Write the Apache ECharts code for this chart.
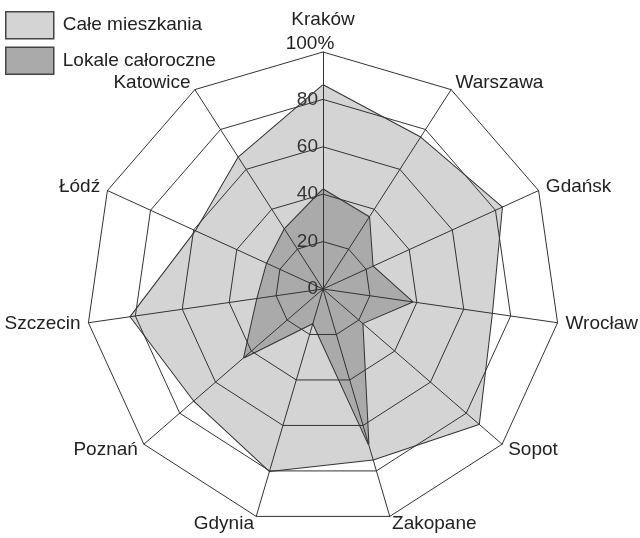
<!DOCTYPE html>
<html>
<head>
<meta charset="utf-8">
<script src="https://cdn.jsdelivr.net/npm/echarts@6/dist/echarts.min.js"></script>
<style>
  html, body { margin: 0; padding: 0; background: #fff; }
  #chart { width: 640px; height: 538px; }
</style>
</head>
<body>
<div id="chart"></div>
<script>
// miasta, zgodnie z ruchem wskazówek zegara od góry
const cities = ['Kraków', 'Warszawa', 'Gdańsk', 'Wrocław', 'Sopot', 'Zakopane',
                'Gdynia', 'Poznań', 'Szczecin', 'Łódź', 'Katowice']
const seriesNames = ['Całe mieszkania', 'Lokale całoroczne']
const caleMieszkania = [86, 76, 83, 72, 87, 75, 80, 72, 82, 59, 66]
const lokaleCaloroczne = [42, 36, 23, 38, 22, 68, 15, 44, 28, 26, 30]
const ringTicks = [0, 20, 40, 60, 80, 100]

// echarts idzie przeciwnie do zegara, więc odwracamy kolejność (poza pierwszym)
function ccw(arr) {
    return [arr[0]].concat(arr.slice(1).reverse())
}

const indicators = ccw(cities).map((name, i) => {
    let ind = { name: name, min: ringTicks[0], max: ringTicks[ringTicks.length - 1] }
    if (i === 0) {
        // tylko oś Krakowa ma podpisy wartości
        ind.axisLabel = { show: true }
        ind.nameGap = -4
    }
    return ind
})

let option = {
    animation: false,
    legend: {
        orient: 'vertical',
        left: 0,
        top: 6,
        itemWidth: 48,
        itemHeight: 27,
        itemGap: 7,
        icon: 'rect',
        itemStyle: { borderColor: '#444', borderWidth: 1.5 },
        textStyle: { fontSize: 19, color: '#222', fontFamily: 'Liberation Sans', padding: [0, 0, 0, 4] },
        data: seriesNames
    },
    radar: {
        z: 3,
        center: [323, 289],
        radius: 237,
        startAngle: 90,
        shape: 'polygon',
        splitNumber: ringTicks.length - 1,
        indicator: indicators,
        axisName: {
            color: '#222',
            fontSize: 19,
            lineHeight: 24,
            fontFamily: 'Liberation Sans',
            formatter: name => name === cities[0] ? name + '\n{p|' + ringTicks[ringTicks.length - 1] + '%}' : name,
            rich: {
                p: { fontSize: 19, lineHeight: 24, color: '#222', fontFamily: 'Liberation Sans', padding: [0, 26, 0, 0] }
            }
        },
        nameGap: 8,
        axisLine: { lineStyle: { color: '#333', width: 1 } },
        splitLine: { lineStyle: { color: '#333', width: 1 } },
        splitArea: { show: false },
        axisTick: { show: false },
        axisLabel: {
            show: false,
            color: '#333',
            fontSize: 19,
            fontFamily: 'Liberation Sans',
            margin: 5,
            padding: [0, 0, 10, 0],
            formatter: v => v === ringTicks[ringTicks.length - 1] ? '' : v
        }
    },
    series: [{
        type: 'radar',
        symbol: 'none',
        data: [
            {
                name: seriesNames[0],
                value: ccw(caleMieszkania),
                itemStyle: { color: '#d4d4d4' },
                lineStyle: { color: '#333', width: 2 },
                areaStyle: { color: '#d4d4d4', opacity: 1 }
            },
            {
                name: seriesNames[1],
                value: ccw(lokaleCaloroczne),
                itemStyle: { color: '#aaaaaa' },
                lineStyle: { color: '#333', width: 2 },
                areaStyle: { color: '#aaaaaa', opacity: 1 }
            }
        ]
    }]
}

let chartDom = echarts.init(document.querySelector('#chart'))
chartDom.setOption(option)
</script>
</body>
</html>
